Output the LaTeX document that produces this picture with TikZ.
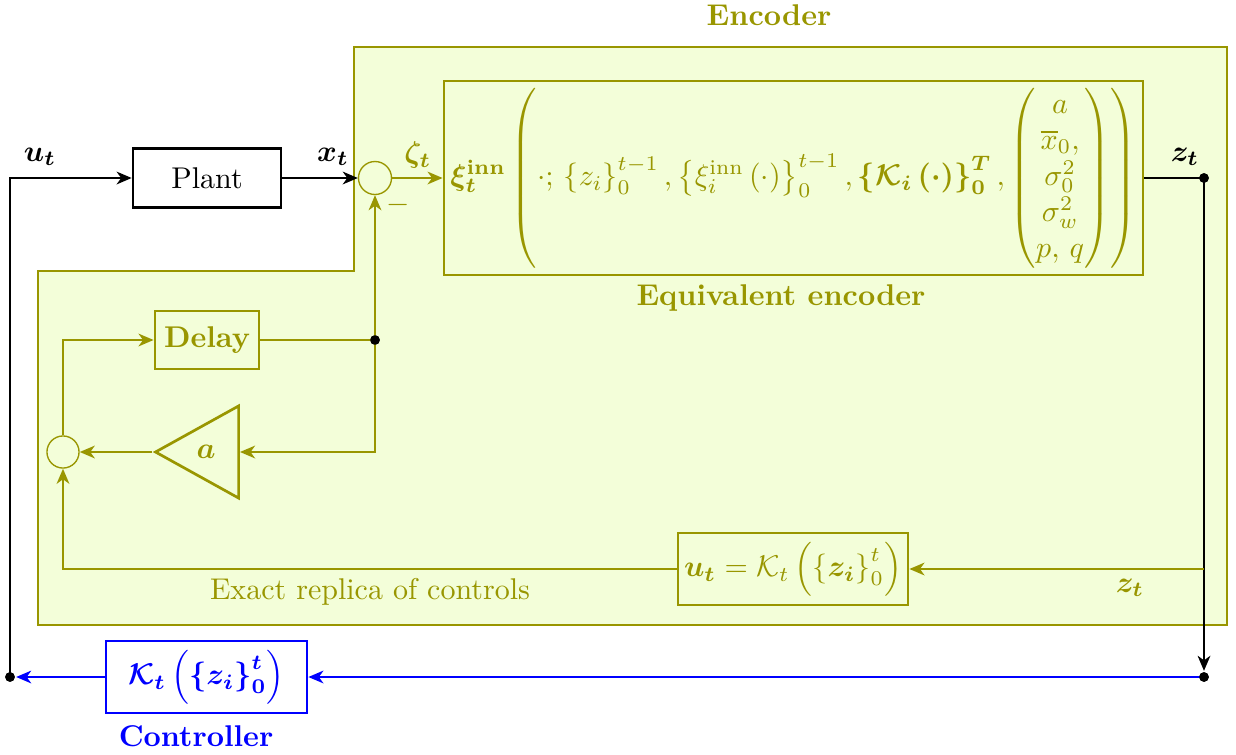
\documentclass[tikz,border=0pt]{standalone}
\usepackage{amsmath,bm}
\usetikzlibrary{arrows.meta,shapes.geometric}
\definecolor{enc}{RGB}{153,150,0}
\definecolor{encfill}{RGB}{243,254,217}
\definecolor{ctrlc}{RGB}{0,0,255}
\begin{document}
\begin{tikzpicture}[x=0.3333pt,y=-0.3333pt,
  line width=0.9pt,
  >={Stealth[length=5pt,width=4.2pt,inset=1.5pt]},
  blk/.style={draw,line width=0.9pt,inner sep=0pt},
  sumc/.style={draw=enc,circle,line width=0.45pt,inner sep=0pt,minimum size=11pt},
  dotc/.style={circle,fill=black,inner sep=0pt,minimum size=3.2pt},
  encline/.style={enc,line width=0.9pt},
  lab/.style={inner sep=0pt}]
\useasboundingbox (0,0) rectangle (1236,754);
% encoder region
\fill[encfill] (354,47) -- (1227,47) -- (1227,625) -- (38,625) -- (38,271) -- (354,271) -- cycle;
\draw[enc,line width=0.45pt] (354,47) -- (1227,47) -- (1227,625) -- (38,625) -- (38,271) -- (354,271) -- cycle;
\node[lab,text=enc,font=\bfseries] (enclab) at (769,15) {Encoder};

% nodes
\node[blk,minimum width=49.3pt,minimum height=19.7pt] (plant) at (207,178) {Plant};
\node[sumc] (sum) at (375,178) {};
\node[blk,draw=enc,text=enc,minimum width=233pt,minimum height=64.7pt] (eq) at (793.5,178)
 {$\bm{\xi_t^{\textbf{inn}}}\left(\cdot;\,\left\{z_i\right\}_0^{t-1},\left\{\xi_i^{\text{inn}}\left(\cdot\right)\right\}_0^{t-1},\bm{\left\{\mathcal{K}_i\left(\cdot\right)\right\}_0^T},\begin{pmatrix}a\\ \overline{x}_0,\\ \sigma_0^2\\ \sigma_w^2\\ p,\,q\end{pmatrix}\right)$};
\node[lab,text=enc,font=\bfseries] (eqlab) at (781,298) {Equivalent encoder};
\node[blk,draw=enc,text=enc,font=\bfseries,minimum width=34.7pt,minimum height=19.3pt] (delay) at (207,340) {Delay};
\node[draw=enc,isosceles triangle,isosceles triangle stretches,shape border rotate=180,line width=0.9pt,
  minimum width=30.7pt,minimum height=27.7pt,inner sep=0pt,anchor=apex] (tri) at (152,452) {};
\node[lab,text=enc] (alab) at (206,452) {$\bm{a}$};
\node[sumc,minimum size=10.7pt] (sum2) at (63,452) {};
\node[blk,draw=enc,text=enc,minimum width=76.7pt,minimum height=24pt] (rep) at (793,569)
 {$\bm{u_t}=\mathcal{K}_t\left(\left\{\bm{z_i}\right\}_0^t\right)$};
\node[lab,text=enc] (replab) at (370,592) {Exact replica of controls};
\node[blk,draw=ctrlc,text=ctrlc,minimum width=67pt,minimum height=24pt] (ctrl) at (206.5,677)
 {$\bm{\mathcal{K}_t\left(\left\{z_i\right\}_0^t\right)}$};
\node[lab,text=ctrlc,font=\bfseries] (ctrllab) at (196,736) {Controller};

% coordinates / dots
\node[dotc] (dL) at (10,677) {};
\node[dotc] (dR1) at (1204,178) {};
\node[dotc] (dR2) at (1204,677) {};
\node[dotc] (dM) at (375,340) {};
\coordinate (zb) at (1204,569);

% labels
\node[lab] (ulab) at (40,157) {$\bm{u_t}$};
\node[lab] (xlab) at (333,157) {$\bm{x_t}$};
\node[lab,text=enc] (zetalab) at (418,155) {$\bm{\zeta_t}$};
\node[lab,text=enc] (minus) at (398,205) {$-$};
\node[lab] (zlab) at (1185,157) {$\bm{z_t}$};
\node[lab,text=enc] (zlab2) at (1130,588) {$\bm{z_t}$};

% connectors
\draw[->] (dL.center) |- (plant.west);
\draw[->] (plant.east) -- (sum.west);
\draw[encline,->] (sum.east) -- (eq.west);
\draw (eq.east) -- (dR1.center);
\draw[->] (dR1.center) -- (dR2.north);
\draw[ctrlc,->] (dR2.center) -- (ctrl.east);
\draw[ctrlc,->] (ctrl.west) -- (dL.east);
\draw[encline,->] (zb) -- (rep.east);
\draw[encline,->] (rep.west) -| (sum2.south);
\draw[encline,->] (sum2.north) |- (delay.west);
\draw[encline] (delay.east) -- (dM.center);
\draw[encline,->] (dM.center) -- (sum.south);
\draw[encline,->] (dM.center) |- (tri.lower side);
\draw[encline,->] (tri.apex) -- (sum2.east);
\node[dotc] at (dM) {};
\node[dotc] at (dR1) {};
\node[dotc] at (dR2) {};
\node[dotc] at (dL) {};
\end{tikzpicture}
\end{document}
